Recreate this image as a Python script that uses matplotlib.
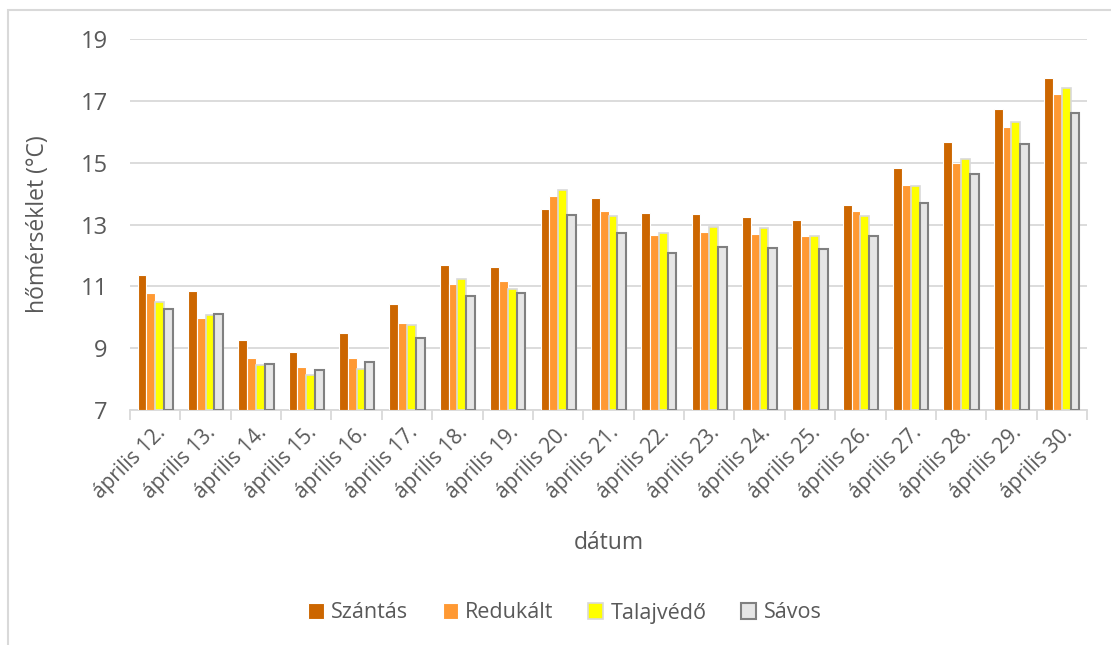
import matplotlib
matplotlib.use("Agg")
import matplotlib.pyplot as plt
import numpy as np
from matplotlib.patches import Rectangle

plt.rcParams['font.family'] = ['Open Sans', 'DejaVu Sans']

dates = ["április 12.", "április 13.", "április 14.", "április 15.", "április 16.",
         "április 17.", "április 18.", "április 19.", "április 20.", "április 21.",
         "április 22.", "április 23.", "április 24.", "április 25.", "április 26.",
         "április 27.", "április 28.", "április 29.", "április 30."]

szantas = [11.38, 10.84, 9.27, 8.88, 9.48, 10.43, 11.69, 11.64, 13.51, 13.86,
           13.36, 13.33, 13.25, 13.14, 13.62, 14.83, 15.66, 16.73, 17.73]
redukalt = [10.80, 9.98, 8.68, 8.38, 8.68, 9.82, 11.07, 11.18, 13.92, 13.43,
            12.65, 12.76, 12.68, 12.62, 13.43, 14.29, 15.00, 16.15, 17.23]
talajvedo = [10.50, 10.08, 8.47, 8.14, 8.34, 9.75, 11.24, 10.91, 14.10, 13.26,
             12.72, 12.92, 12.90, 12.63, 13.26, 14.23, 15.12, 16.32, 17.40]
savos = [10.26, 10.09, 8.49, 8.29, 8.54, 9.34, 10.70, 10.79, 13.30, 12.73,
         12.09, 12.27, 12.23, 12.20, 12.64, 13.69, 14.63, 15.61, 16.62]

series = [
    ("Szántás", szantas, "#CC6600", "white", 0.8),
    ("Redukált", redukalt, "#FF9933", "white", 0.8),
    ("Talajvédő", talajvedo, "#FFFF00", "#D9D9D9", 1.2),
    ("Sávos", savos, "#E6E6E6", "#808080", 1.5),
]

fig = plt.figure(figsize=(11.11, 6.45), dpi=100)
ax = fig.add_axes([130 / 1111, 1 - 410 / 645, 957 / 1111, 371 / 645])

# outer chart frame
fig.patches.append(Rectangle((8 / 1111, -0.1), 1.2, (645 - 10) / 645 + 0.1,
                             transform=fig.transFigure, fill=False,
                             edgecolor="#D9D9D9", linewidth=1.5))

x = np.arange(len(dates))
w = 0.175
for i, (name, vals, fc, ec, lw) in enumerate(series):
    ax.bar(x + (i - 1.5) * w, np.array(vals) - 7, bottom=7, width=w,
           color=fc, edgecolor=ec, linewidth=lw, label=name, zorder=3)

ax.set_ylim(7, 19)
ax.set_xlim(-0.5, len(dates) - 0.5)
ax.set_yticks(range(7, 20, 2))
ax.grid(axis="y", color="#D9D9D9", linewidth=1.3, zorder=0)
for s in ["top", "right", "left"]:
    ax.spines[s].set_visible(False)
ax.spines["bottom"].set_color("#D9D9D9")
ax.spines["bottom"].set_linewidth(1.3)

ax.set_xticks(x)
ax.set_xticklabels(dates, rotation=45, ha="right", rotation_mode="anchor",
                   fontsize=15, color="#595959")
ax.set_xticks(np.arange(-0.5, len(dates), 1), minor=True)
ax.tick_params(axis="x", which="major", length=0, pad=9)
ax.tick_params(axis="x", which="minor", length=7, color="#D9D9D9", width=1.3)
ax.tick_params(axis="y", length=0, pad=16, labelsize=17, labelcolor="#595959")

ax.set_ylabel("hőmérséklet (°C)", fontsize=16.5, color="#595959")
ax.yaxis.set_label_coords((38 - 130) / 957, 0.5)
ax.set_xlabel("dátum", fontsize=16.5, color="#595959")
ax.xaxis.set_label_coords(0.5, -(543 - 410) / 371)
ax.xaxis.label.set_va("center")
ax.yaxis.label.set_va("center")

ax.legend(loc="center", bbox_to_anchor=(565 / 1111, 1 - 613 / 645),
          bbox_transform=fig.transFigure, ncol=4, frameon=False,
          fontsize=15.5, labelcolor="#595959", handlelength=0.7,
          handleheight=0.7, handletextpad=0.35, columnspacing=1.6)

fig.savefig("out.png", dpi=100)
